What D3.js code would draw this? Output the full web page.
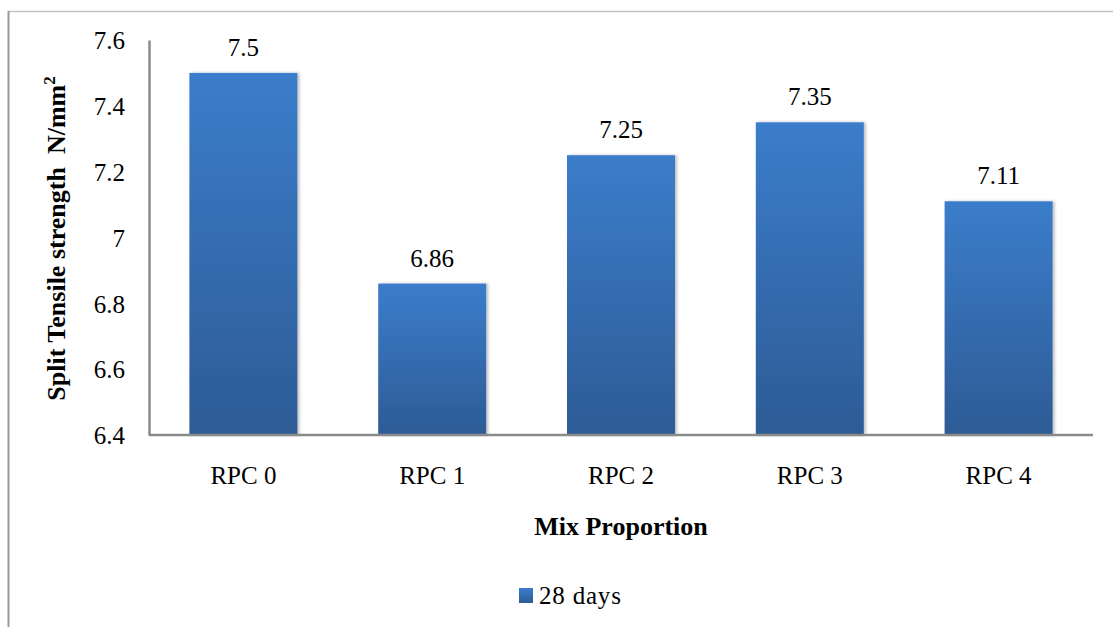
<!DOCTYPE html>
<html>
<head>
<meta charset="utf-8">
<script src="https://cdn.jsdelivr.net/npm/d3@7"></script>
<style>
  html, body { margin: 0; padding: 0; background: #fff; }
  svg { display: block; }
  text { font-family: "Liberation Serif", "Times New Roman", serif; fill: #000; }
</style>
</head>
<body>
<svg id="chart" width="1113" height="627" font-family="Liberation Serif, serif"></svg>
<script>
// Split tensile strength at 28 days per mix
const categories = ["RPC 0", "RPC 1", "RPC 2", "RPC 3", "RPC 4"];
const values28 = [7.5, 6.86, 7.25, 7.35, 7.11];
const yTicks = [6.4, 6.6, 6.8, 7, 7.2, 7.4, 7.6];
const seriesName = "28 days";

const svg = d3.select("#chart");
const W = 1113, H = 627;
const plot = { left: 149, right: 1093, top: 40, bottom: 435 };
const FS = 25;

// gradient fill for the bars
const defs = svg.append("defs");
const grad = defs.append("linearGradient")
  .attr("id", "barGrad").attr("x1", 0).attr("y1", 0).attr("x2", 0).attr("y2", 1);
grad.append("stop").attr("offset", "0%").attr("stop-color", "#3b7dcb");
grad.append("stop").attr("offset", "100%").attr("stop-color", "#2d5b95");
const shadow = defs.append("filter").attr("id", "barShadow")
  .attr("x", "-10%").attr("y", "-5%").attr("width", "125%").attr("height", "110%");
shadow.append("feDropShadow").attr("dx", 2).attr("dy", 0).attr("stdDeviation", 1.5)
  .attr("flood-color", "#000").attr("flood-opacity", 0.25);

// outer frame (left and top edges)
svg.append("line").attr("x1", 8).attr("x2", W).attr("y1", 11.5).attr("y2", 11.5)
  .attr("stroke", "#c4c4c4").attr("stroke-width", 1.5);
svg.append("line").attr("x1", 8.5).attr("x2", 8.5).attr("y1", 11).attr("y2", H)
  .attr("stroke", "#9a9a9a").attr("stroke-width", 2);

const x = d3.scaleBand().domain(categories)
  .range([plot.left, plot.right]).paddingInner(0.428).paddingOuter(0.214);
const y = d3.scaleLinear().domain([6.4, 7.6]).range([plot.bottom, plot.top]);

// bars
svg.append("g").selectAll("rect").data(categories).join("rect")
  .attr("x", d => x(d))
  .attr("width", x.bandwidth())
  .attr("y", (d, i) => y(values28[i]))
  .attr("height", (d, i) => y(6.4) - y(values28[i]))
  .attr("fill", "url(#barGrad)")
  .attr("filter", "url(#barShadow)");

// value labels
svg.append("g").selectAll("text").data(categories).join("text")
  .attr("x", d => x(d) + x.bandwidth() / 2)
  .attr("y", (d, i) => y(values28[i]) - 17)
  .attr("text-anchor", "middle")
  .attr("font-size", FS)
  .text((d, i) => values28[i]);

// y axis
const yAxis = svg.append("g").attr("transform", `translate(${plot.left},0)`)
  .call(d3.axisLeft(y).tickValues(yTicks).tickSize(0).tickPadding(24)
    .tickFormat(d => String(d)));
yAxis.attr("font-family", null).attr("font-size", null);
yAxis.select(".domain").attr("stroke", "#8a8a8a").attr("stroke-width", 2.5);
yAxis.selectAll("text").attr("font-size", FS).attr("dy", "0.35em");

// x axis
const xAxis = svg.append("g").attr("transform", `translate(0,${plot.bottom})`)
  .call(d3.axisBottom(x).tickSize(0).tickPadding(31));
xAxis.attr("font-family", null).attr("font-size", null);
xAxis.select(".domain").attr("stroke", "#8a8a8a").attr("stroke-width", 2.5)
  .attr("d", `M${plot.left},0H${plot.right}`);
xAxis.selectAll("text").attr("font-size", FS);

// axis titles
svg.append("text")
  .attr("transform", `translate(65,${(plot.top + plot.bottom) / 2 + 1}) rotate(-90)`)
  .attr("text-anchor", "middle")
  .style("white-space", "pre")
  .attr("font-size", 26).attr("font-weight", "bold")
  .html('Split Tensile strength  N/mm<tspan dy="-10" font-size="17">2</tspan>');

svg.append("text")
  .attr("x", (plot.left + plot.right) / 2).attr("y", 535)
  .attr("text-anchor", "middle")
  .attr("font-size", 26).attr("font-weight", "bold")
  .text("Mix Proportion");

// legend
const lg = svg.append("g").attr("transform", "translate(519,588)");
lg.append("rect").attr("width", 14).attr("height", 15).attr("fill", "url(#barGrad)");
lg.append("text").attr("x", 20).attr("y", 16).attr("font-size", FS)
  .attr("letter-spacing", "0.8").text(seriesName);
</script>
</body>
</html>
